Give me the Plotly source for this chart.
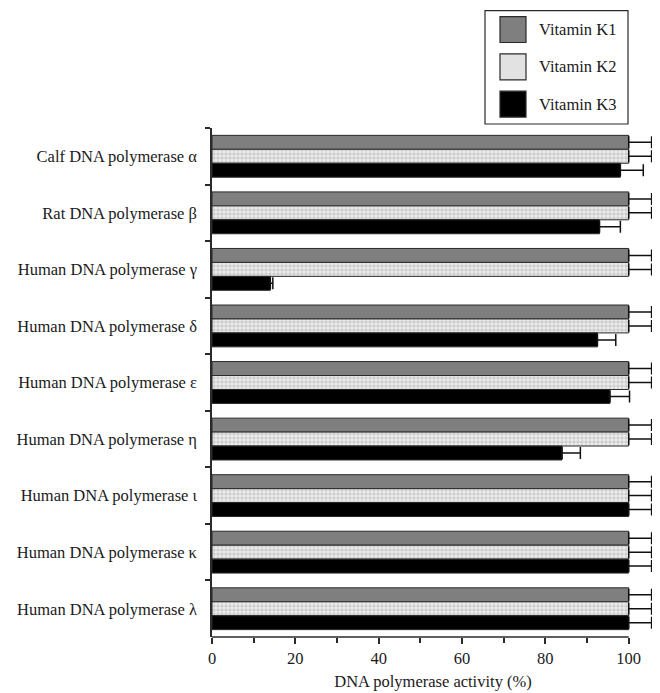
import plotly.graph_objects as go

categories = [
    "Calf DNA polymerase α",
    "Rat DNA polymerase β",
    "Human DNA polymerase γ",
    "Human DNA polymerase δ",
    "Human DNA polymerase ε",
    "Human DNA polymerase η",
    "Human DNA polymerase ι",
    "Human DNA polymerase κ",
    "Human DNA polymerase λ",
]
series_names = ["Vitamin K1", "Vitamin K2", "Vitamin K3"]
k1_values = [100, 100, 100, 100, 100, 100, 100, 100, 100]
k1_errors = [5.5, 5.5, 5.5, 5.5, 5.5, 5.5, 5.5, 5.5, 5.5]
k2_values = [100, 100, 100, 100, 100, 100, 100, 100, 100]
k2_errors = [5.5, 5.5, 5.5, 5.5, 5.5, 5.5, 5.5, 5.5, 5.5]
k3_values = [98, 93, 14, 92.5, 95.5, 84, 100, 100, 100]
k3_errors = [5.5, 5, 0.6, 4.4, 4.7, 4.4, 5.5, 5.5, 5.5]
x_tick_values = [0, 20, 40, 60, 80, 100]
x_minor_ticks = [10, 30, 50, 70, 90]

# page has an 8px body margin; figure is sized/positioned to compensate
OFF = 8
W, H = 652, 685
ML, MT = 212 - OFF, 128 - OFF
MB = H - (640 - OFF)
MR = W - (654 - OFF)
plot_w = W - ML - MR
plot_h = H - MT - MB
px_per_unit = 4.167
x_max = plot_w / px_per_unit

FONT = "Liberation Serif"
FS = 16.5
TXT = "#1a1a1a"
OUT = "#2a2a2a"

fig = go.Figure()
styles = [
    dict(color="#7f7f7f"),
    dict(color="#ececec", pattern=dict(shape="+", size=4, solidity=0.35,
                                        fgcolor="#bdbdbd", bgcolor="#ededed", fillmode="replace")),
    dict(color="#000000"),
]
vals = [k1_values, k2_values, k3_values]
errs = [k1_errors, k2_errors, k3_errors]
for name, v, e, st in zip(series_names, vals, errs, styles):
    fig.add_trace(go.Bar(
        y=categories, x=v, name=name, orientation="h",
        marker=dict(**st, line=dict(color=OUT, width=1)),
        error_x=dict(type="data", array=e, arrayminus=[0] * len(e), symmetric=False,
                     color="#111111", thickness=1.5, width=6),
        showlegend=False,
    ))

fig.update_layout(
    width=W, height=H,
    margin=dict(l=ML, r=MR, t=MT, b=MB),
    paper_bgcolor="white", plot_bgcolor="white",
    barmode="group", bargap=0.26, bargroupgap=0,
    font=dict(family=FONT, size=FS, color=TXT),
    showlegend=False,
)
fig.update_xaxes(
    range=[0, x_max], showline=False, showgrid=False, zeroline=False,
    tickvals=x_tick_values, ticks="outside", ticklen=6, tickwidth=1.5, tickcolor=OUT,
    minor=dict(tickvals=x_minor_ticks, ticks="outside", ticklen=5, tickwidth=1.5, tickcolor=OUT),
    tickfont=dict(size=FS, family=FONT, color=TXT),
    title=dict(text="DNA polymerase activity (%)", font=dict(size=FS, family=FONT, color=TXT), standoff=8),
)
fig.update_yaxes(
    autorange="reversed", showline=True, linecolor=OUT, linewidth=1.5,
    showgrid=False, zeroline=False, ticks="outside", tickson="boundaries",
    ticklen=5, tickwidth=1.5, tickcolor=OUT, ticklabelstandoff=10,
    tickfont=dict(size=FS, family=FONT, color=TXT),
)
# x axis line from 0 to 100
fig.add_shape(type="line", xref="x", yref="paper", x0=0, x1=100, y0=0, y1=0,
              line=dict(color=OUT, width=1.5))

# custom legend (decoration); pixel positions are page pixels
def px(xp):
    return (xp - OFF - ML) / plot_w

def py(yp):
    return (H - MB - (yp - OFF)) / plot_h

fig.add_shape(type="rect", xref="paper", yref="paper", x0=px(485), x1=px(628), y0=py(124), y1=py(10),
              line=dict(color=OUT, width=1.2), fillcolor="white")
sw_fill = ["#7f7f7f", "#e2e2e2", "#000000"]
sw_centers = [29, 66.5, 104]
for name, fc, cy in zip(series_names, sw_fill, sw_centers):
    fig.add_shape(type="rect", xref="paper", yref="paper", x0=px(500), x1=px(526),
                  y0=py(cy + 13), y1=py(cy - 13), line=dict(color=OUT, width=1.2), fillcolor=fc)
    fig.add_annotation(xref="paper", yref="paper", x=px(537), y=py(cy), text=name,
                       showarrow=False, xanchor="left", yanchor="middle",
                       font=dict(family=FONT, size=FS, color=TXT))

fig.write_html("out.html")
